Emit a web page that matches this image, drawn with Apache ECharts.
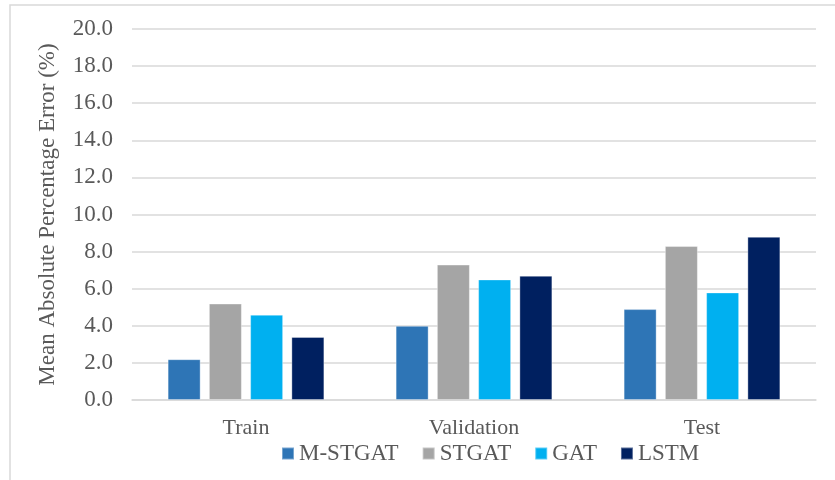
<!DOCTYPE html>
<html>
<head>
<meta charset="utf-8">
<script src="https://cdn.jsdelivr.net/npm/echarts@6/dist/echarts.min.js"></script>
<style>
  html, body { margin: 0; padding: 0; background: #fff; }
  #main { width: 835px; height: 480px; }
</style>
</head>
<body>
<div id="main"></div>
<script>
const categories = ['Train', 'Validation', 'Test'];
const seriesNames = ['M-STGAT', 'STGAT', 'GAT', 'LSTM'];
const mStgat = [2.2, 4.0, 4.9];
const stgat = [5.2, 7.3, 8.3];
const gat = [4.6, 6.5, 5.8];
const lstm = [3.4, 6.7, 8.8];
const colors = ['#2E75B6', '#A5A5A5', '#00B0F0', '#002060'];

var chart = echarts.init(document.getElementById('main'));
var font = '"Liberation Serif", "Times New Roman", serif';
var textColor = '#595959';

var values = [mStgat, stgat, gat, lstm];
var seriesList = seriesNames.map(function (name, i) {
    return {
        name: name,
        type: 'bar',
        data: values[i],
        barWidth: 33,
        barGap: '25%',
        itemStyle: {
            color: colors[i],
            borderColor: 'rgba(255,255,255,0.35)',
            borderWidth: 1
        }
    };
});

chart.setOption({
    animation: false,
    color: colors,
    textStyle: { fontFamily: font },
    // outer chart frame (right/bottom edges fall outside the picture)
    graphic: [{
        type: 'rect',
        shape: { x: 10, y: 5, width: 840, height: 490 },
        style: { fill: 'none', stroke: '#d9d9d9', lineWidth: 1.5 },
        silent: true
    }],
    legend: {
        data: seriesNames,
        left: 276,
        top: 437,
        itemWidth: 12,
        itemHeight: 12,
        itemGap: 23,
        icon: 'rect',
        textStyle: { fontFamily: font, fontSize: 23, color: textColor }
    },
    grid: {
        left: 132,
        right: 19,
        top: 29,
        bottom: 80
    },
    xAxis: {
        type: 'category',
        data: categories,
        axisTick: { show: false },
        axisLine: { lineStyle: { color: '#d9d9d9', width: 1.5 } },
        axisLabel: {
            fontFamily: font,
            fontSize: 22,
            color: textColor,
            margin: 17
        }
    },
    yAxis: {
        type: 'value',
        min: 0,
        max: 20,
        interval: 2,
        name: 'Mean Absolute Percentage Error (%)',
        nameLocation: 'middle',
        nameGap: 73,
        nameRotate: 90,
        nameTextStyle: { fontFamily: font, fontSize: 23, color: textColor },
        axisLine: { show: false },
        axisTick: { show: false },
        axisLabel: {
            fontFamily: font,
            fontSize: 23,
            color: textColor,
            margin: 19,
            formatter: function (v) { return v.toFixed(1); }
        },
        splitLine: { lineStyle: { color: '#d9d9d9', width: 1.5 } }
    },
    series: seriesList
});
</script>
</body>
</html>
